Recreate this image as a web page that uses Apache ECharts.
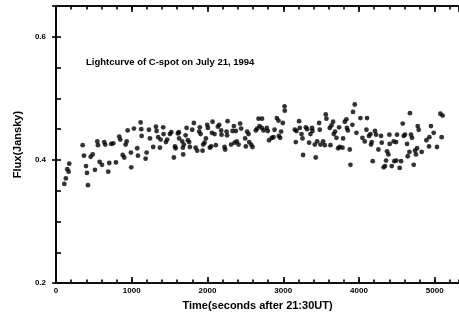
<!DOCTYPE html>
<html>
<head>
<meta charset="utf-8">
<script src="https://cdn.jsdelivr.net/npm/echarts@6/dist/echarts.min.js"></script>
<style>html,body{margin:0;padding:0;background:#fff;}#chart{width:459px;height:316px;}</style>
</head>
<body>
<div id="chart"></div>
<script>
// Time in seconds after 21:30UT
const times = [110,130,149,167,175,352,369,396,409,422,458,484,514,545,554,576,607,637,650,690,703,729,756,791,835,848,880,901,919,933,946,989,993,1029,1072,1082,1117,1125,1130,1183,1196,1227,1240,1283,1319,1328,1349,1372,1381,1415,1420,1451,1468,1504,1521,1556,1570,1579,1609,1622,1625,1666,1675,1679,1688,1711,1724,1741,1758,1767,1798,1820,1843,1864,1890,1899,1909,1935,1943,1961,1979,1996,2005,2031,2048,2058,2067,2093,2110,2137,2154,2180,2185,2225,2233,2252,2258,2265,2312,2331,2348,2357,2374,2387,2410,2431,2444,2497,2506,2523,2542,2550,2576,2594,2638,2655,2674,2687,2717,2720,2740,2783,2796,2813,2849,2871,2885,2915,2937,2942,2959,2972,2994,3017,3020,3152,3166,3175,3209,3218,3241,3254,3262,3298,3315,3341,3359,3380,3386,3416,3429,3447,3473,3482,3491,3526,3548,3561,3570,3614,3623,3636,3658,3667,3684,3702,3724,3737,3746,3782,3790,3812,3834,3840,3852,3878,3887,3913,3921,3944,3966,4019,4045,4076,4098,4106,4132,4151,4159,4168,4181,4211,4225,4256,4291,4300,4326,4343,4357,4370,4388,4401,4405,4432,4458,4467,4489,4492,4502,4537,4555,4577,4590,4607,4634,4643,4665,4673,4686,4700,4722,4739,4752,4766,4775,4788,4827,4890,4924,4929,4950,4986,5029,5074,5091,5104];
// Flux in Jansky
const flux = [0.361,0.370,0.385,0.381,0.394,0.424,0.407,0.390,0.379,0.359,0.405,0.409,0.384,0.430,0.424,0.397,0.392,0.429,0.425,0.381,0.395,0.426,0.427,0.396,0.438,0.433,0.408,0.404,0.425,0.430,0.448,0.412,0.388,0.451,0.419,0.407,0.461,0.450,0.439,0.402,0.412,0.449,0.435,0.421,0.454,0.447,0.437,0.420,0.433,0.453,0.442,0.429,0.433,0.442,0.445,0.404,0.422,0.419,0.443,0.445,0.435,0.430,0.420,0.409,0.425,0.440,0.452,0.432,0.429,0.421,0.449,0.460,0.420,0.415,0.446,0.453,0.442,0.415,0.425,0.428,0.435,0.457,0.452,0.420,0.422,0.444,0.462,0.442,0.424,0.454,0.457,0.448,0.441,0.421,0.417,0.446,0.440,0.463,0.425,0.447,0.455,0.428,0.447,0.430,0.425,0.459,0.451,0.435,0.422,0.446,0.442,0.429,0.425,0.421,0.448,0.451,0.467,0.455,0.452,0.467,0.448,0.452,0.447,0.432,0.436,0.437,0.449,0.468,0.464,0.439,0.436,0.446,0.460,0.487,0.480,0.449,0.429,0.447,0.463,0.452,0.442,0.435,0.408,0.453,0.450,0.428,0.442,0.452,0.447,0.425,0.404,0.430,0.460,0.449,0.425,0.430,0.424,0.474,0.467,0.452,0.424,0.456,0.462,0.442,0.446,0.436,0.419,0.453,0.421,0.420,0.435,0.462,0.466,0.452,0.448,0.417,0.392,0.457,0.478,0.490,0.444,0.468,0.436,0.430,0.449,0.468,0.439,0.442,0.425,0.429,0.398,0.447,0.441,0.417,0.439,0.428,0.388,0.390,0.399,0.414,0.409,0.441,0.426,0.390,0.430,0.398,0.429,0.399,0.441,0.387,0.398,0.459,0.439,0.441,0.426,0.406,0.413,0.476,0.441,0.436,0.392,0.415,0.409,0.419,0.455,0.449,0.413,0.432,0.422,0.437,0.455,0.444,0.421,0.475,0.437,0.472];
const xTickLabels = ["0","1000","2000","3000","4000","5000"];
const yTickLabels = ["0.2","0.4","0.6"];
const titleText = "Lightcurve of C-spot on July 21, 1994";
const xName = "Time(seconds after 21:30UT)";
const yName = "Flux(Jansky)";

const XMIN = 0, XMAX = 5320, YMIN = 0.2, YMAX = 0.65;
const FONT = '"Liberation Sans", Arial, sans-serif';
const lineStyle = {color:'#000', width:1.6};

function xLabelFmt(v){ const s = String(Math.round(v)); return xTickLabels.indexOf(s) >= 0 ? s : ''; }
function yLabelFmt(v){ const s = (Math.round(v*100)/100).toFixed(1); return (yTickLabels.indexOf(s) >= 0 && Math.abs(v*10 - Math.round(v*10))<1e-6) ? s : ''; }

const chart = echarts.init(document.getElementById('chart'), null, {renderer:'canvas'});
const xBase = {type:'value', min:XMIN, max:XMAX, splitLine:{show:false}, axisLine:{show:true, lineStyle:lineStyle}};
chart.setOption({
  animation:false,
  backgroundColor:'#fff',
  grid:{left:56, right:0, top:6, bottom:32, containLabel:false},
  graphic:[{type:'text', left:86, top:57, style:{text:titleText, font:'bold 9.5px '+FONT, fill:'#000'}}],
  xAxis:[
    Object.assign({}, xBase, {position:'bottom', interval:1000,
      axisTick:{show:true, inside:true, length:6, lineStyle:lineStyle},
      axisLabel:{show:true, margin:4, color:'#000', fontFamily:FONT, fontWeight:'bold', fontSize:8, formatter:xLabelFmt, showMaxLabel:false},
      name:xName, nameLocation:'middle', nameGap:13, nameTextStyle:{color:'#000', fontFamily:FONT, fontWeight:'bold', fontSize:11}}),
    Object.assign({}, xBase, {position:'bottom', interval:200,
      axisTick:{show:true, inside:true, length:3.5, lineStyle:lineStyle}, axisLabel:{show:false}}),
    Object.assign({}, xBase, {position:'top', interval:1000,
      axisTick:{show:true, inside:true, length:6, lineStyle:lineStyle}, axisLabel:{show:false}}),
    Object.assign({}, xBase, {position:'top', interval:200,
      axisTick:{show:true, inside:true, length:3.5, lineStyle:lineStyle}, axisLabel:{show:false}})
  ],
  yAxis:[
    {type:'value', position:'left', min:YMIN, max:YMAX, interval:0.05, splitLine:{show:false},
      axisLine:{show:true, lineStyle:lineStyle},
      axisTick:{show:true, inside:true, length:5, lineStyle:lineStyle},
      axisLabel:{show:true, margin:10, color:'#000', fontFamily:FONT, fontWeight:'bold', fontSize:8, formatter:yLabelFmt, showMaxLabel:false},
      name:yName, nameLocation:'middle', nameGap:33, nameTextStyle:{color:'#000', fontFamily:FONT, fontWeight:'bold', fontSize:11}},
    {type:'value', position:'right', min:YMIN, max:YMAX, interval:0.2, splitLine:{show:false},
      axisLine:{show:true, lineStyle:lineStyle},
      axisTick:{show:true, inside:true, length:4, lineStyle:lineStyle}, axisLabel:{show:false}}
  ],
  series:[{
    type:'scatter', xAxisIndex:0, yAxisIndex:0,
    symbol:'circle', symbolSize:4.8,
    itemStyle:{color:'#000'},
    data: times.map((t,i)=>[t, flux[i]])
  }]
});
</script>
</body>
</html>
